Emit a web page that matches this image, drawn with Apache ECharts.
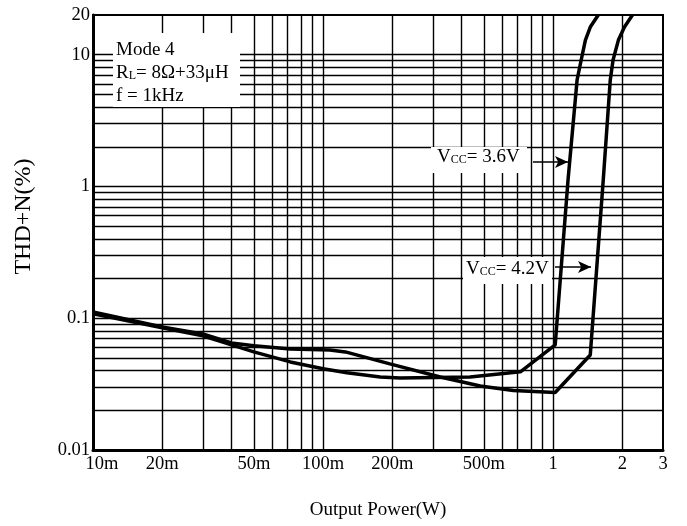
<!DOCTYPE html>
<html>
<head>
<meta charset="utf-8">
<script src="https://cdn.jsdelivr.net/npm/echarts@6/dist/echarts.min.js"></script>
<style>
html,body{margin:0;padding:0;background:#fff;}
#chart{width:687px;height:526px;}
</style>
</head>
<body>
<div id="chart"></div>
<script>
// ---- data ----
const power36 = [0.01, 0.02, 0.03, 0.04, 0.05, 0.072, 0.1, 0.127, 0.177, 0.216, 0.435, 0.72, 1.02, 1.16, 1.27, 1.323, 1.38, 1.449, 1.57];
const thd36   = [0.108, 0.0845, 0.0735, 0.0627, 0.0555, 0.0466, 0.0413, 0.0385, 0.0358, 0.0352, 0.0358, 0.0392, 0.0627, 1.12, 6.43, 9.11, 12.9, 16.2, 20];
const power42 = [0.01, 0.02, 0.03, 0.04, 0.05, 0.072, 0.107, 0.125, 0.195, 0.323, 0.482, 0.67, 1.02, 1.449, 1.65, 1.77, 1.82, 1.92, 2.04, 2.21];
const thd42   = [0.1116, 0.0859, 0.076, 0.0649, 0.0617, 0.0585, 0.0575, 0.0555, 0.045, 0.0358, 0.0306, 0.0283, 0.0273, 0.0526, 1.12, 6.43, 9.11, 12.9, 16.2, 20];

const xTickValues = [0.01, 0.02, 0.05, 0.1, 0.2, 0.5, 1, 2, 3];
const xTickLabels = ['10m', '20m', '50m', '100m', '200m', '500m', '1', '2', '3'];
const yTickValues = [0.01, 0.1, 1, 10, 20];
const yTickLabels = ['0.01', '0.1', '1', '10', '20'];

// grid line values (log minor grid)
const xGridValues = [];
[0.01, 0.1, 1].forEach(d => { for (let k = 1; k <= 9; k++) { const v = +(d * k).toPrecision(3); if (v > 0.01 && v < 3) xGridValues.push(v); } });
const yGridValues = [];
[0.01, 0.1, 1, 10].forEach(d => { for (let k = 1; k <= 9; k++) { const v = +(d * k).toPrecision(3); if (v > 0.01 && v < 20) yGridValues.push(v); } });

function zip(a, b) { return a.map((v, i) => [v, b[i]]); }
function lookupIdx(vals, v) {
  let best = -1, bd = Infinity;
  vals.forEach((t, i) => { const d = Math.abs(Math.log(t) - Math.log(v)); if (d < bd) { bd = d; best = i; } });
  return bd < 0.01 ? best : -1;
}

const FONT = 'Liberation Serif';
const chart = echarts.init(document.getElementById('chart'));

const subRich = {
  n: { fontFamily: FONT, fontSize: 19, lineHeight: 23, fill: '#000' },
  s: { fontFamily: FONT, fontSize: 12, lineHeight: 12, verticalAlign: 'middle', padding: [5, 0, 0, 0], fill: '#000' }
};

const option = {
  backgroundColor: '#fff',
  animation: false,
  grid: { left: 93, right: 24, top: 15, bottom: 76, show: true, borderColor: '#000', borderWidth: 2, backgroundColor: 'transparent' },
  xAxis: {
    type: 'log', logBase: 10, min: 0.01, max: 3,
    name: 'Output Power(W)', nameLocation: 'middle', nameGap: 51,
    nameTextStyle: { fontFamily: FONT, fontSize: 19, color: '#000' },
    axisLine: { show: true, lineStyle: { color: '#000', width: 3 } },
    axisTick: { show: false },
    splitLine: { show: false },
    minorTick: { show: false }, minorSplitLine: { show: false },
    axisLabel: {
      customValues: xTickValues,
      formatter: v => { const i = lookupIdx(xTickValues, v); if (i < 0) return ''; return i === 0 ? '{f|' + xTickLabels[i] + '}' : xTickLabels[i]; },
      rich: { f: { fontFamily: FONT, fontSize: 18.5, color: '#000', padding: [0, 0, 0, 18] } },
      fontFamily: FONT, fontSize: 18.5, color: '#000', margin: 5
    }
  },
  yAxis: {
    type: 'log', logBase: 10, min: 0.01, max: 20,
    name: 'THD+N(%)', nameLocation: 'middle', nameGap: 57, nameRotate: 90,
    nameTextStyle: { fontFamily: FONT, fontSize: 24, color: '#000', padding: [0, 0, 0, 32] },
    axisLine: { show: true, lineStyle: { color: '#000', width: 3 } },
    axisTick: { show: false },
    splitLine: { show: false },
    minorTick: { show: false }, minorSplitLine: { show: false },
    axisLabel: {
      customValues: yTickValues,
      formatter: v => { const i = lookupIdx(yTickValues, v); return i < 0 ? '' : yTickLabels[i]; },
      fontFamily: FONT, fontSize: 18.5, color: '#000', margin: 3
    }
  },
  graphic: [
    { type: 'rect', z: 50, shape: { x: 113, y: 33, width: 127, height: 74 }, style: { fill: '#fff' } },
    { type: 'text', z: 51, x: 116, y: 39, style: {
        text: '{n|Mode 4}\n{n|R}{s|L}{n|= 8Ω+33μH}\n{n|f = 1kHz}',
        font: '19px "Liberation Serif"', fill: '#000', lineHeight: 23, rich: subRich
    } },
    { type: 'rect', z: 50, shape: { x: 431, y: 147, width: 96, height: 26 }, style: { fill: '#fff' } },
    { type: 'text', z: 51, x: 437, y: 146, style: {
        text: '{n|V}{s|CC}{n|= 3.6V}', font: '19px "Liberation Serif"', fill: '#000', rich: subRich
    } },
    { type: 'rect', z: 50, shape: { x: 463, y: 257, width: 89, height: 27 }, style: { fill: '#fff' } },
    { type: 'text', z: 51, x: 466, y: 258, style: {
        text: '{n|V}{s|CC}{n|= 4.2V}', font: '19px "Liberation Serif"', fill: '#000', rich: subRich
    } }
  ],
  series: [
    {
      name: 'grid', type: 'line', data: [], z: 1, silent: true,
      markLine: {
        silent: true, symbol: ['none', 'none'], label: { show: false }, animation: false,
        lineStyle: { color: '#000', width: 1.4, type: 'solid' },
        emphasis: { disabled: true },
        data: xGridValues.map(v => ({ xAxis: v })).concat(yGridValues.map(v => ({ yAxis: v })))
      }
    },
    {
      name: 'Vcc=3.6V', type: 'line', data: zip(power36, thd36), z: 100,
      showSymbol: false, symbol: 'none', smooth: false,
      lineStyle: { color: '#000', width: 3.5 }
    },
    {
      name: 'Vcc=4.2V', type: 'line', data: zip(power42, thd42), z: 100,
      showSymbol: false, symbol: 'none', smooth: false,
      lineStyle: { color: '#000', width: 3.5 }
    },
    {
      name: 'arrows', type: 'line', data: [], z: 90, silent: true,
      markLine: {
        silent: true, symbol: ['none', 'arrow'], symbolSize: [9, 13], label: { show: false }, animation: false,
        lineStyle: { color: '#000', width: 1.6, type: 'solid' },
        emphasis: { disabled: true },
        data: [
          [{ x: 533, y: 162 }, { x: 568, y: 162 }],
          [{ x: 555, y: 267 }, { x: 591, y: 267 }]
        ]
      }
    }
  ]
};
chart.setOption(option);
</script>
</body>
</html>
